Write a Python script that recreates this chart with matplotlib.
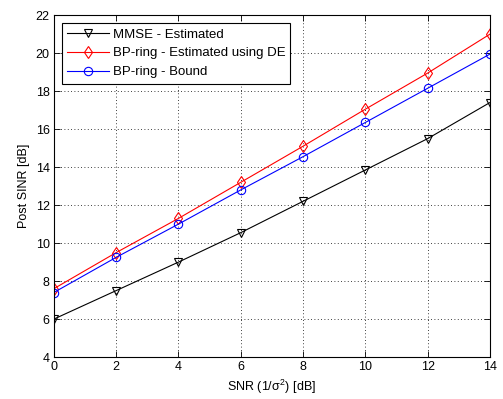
import matplotlib
matplotlib.use("Agg")
import matplotlib.pyplot as plt

snr = [0, 2, 4, 6, 8, 10, 12, 14]
mmse = [6.0, 7.5, 9.0, 10.55, 12.2, 13.85, 15.5, 17.4]
bp_de = [7.6, 9.5, 11.3, 13.2, 15.1, 17.05, 18.95, 21.0]
bp_bound = [7.4, 9.25, 11.0, 12.8, 14.55, 16.35, 18.15, 19.95]
xticks = [0, 2, 4, 6, 8, 10, 12, 14]
yticks = [4, 6, 8, 10, 12, 14, 16, 18, 20, 22]

plt.rcParams['font.family'] = ['Liberation Sans', 'DejaVu Sans']
plt.rcParams['font.size'] = 9
plt.rcParams['mathtext.fontset'] = 'custom'
plt.rcParams['mathtext.rm'] = 'Liberation Sans'
plt.rcParams['mathtext.it'] = 'Liberation Sans'

fig = plt.figure(figsize=(5.03, 3.99), dpi=100)
ax = fig.add_axes([0.107, 0.105, 0.867, 0.857])

ax.plot(snr, mmse, color='black', lw=0.8, marker='v', mfc='none', mec='black', ms=6, mew=0.8,
        label='MMSE - Estimated')
ax.plot(snr, bp_de, color='red', lw=0.8, marker='d', mfc='none', mec='red', ms=6.5, mew=0.8,
        label='BP-ring - Estimated using DE')
ax.plot(snr, bp_bound, color='blue', lw=0.8, marker='o', mfc='none', mec='blue', ms=6, mew=0.8,
        label='BP-ring - Bound')

ax.set_xlim(0, 14)
ax.set_ylim(4, 22)
ax.set_xticks(xticks)
ax.set_yticks(yticks)
ax.grid(True, linestyle=(0, (1, 3)), color='black', lw=0.6)
ax.tick_params(direction='in', length=4, width=0.6, top=True, right=True, labelsize=9, pad=3)
for s in ax.spines.values():
    s.set_linewidth(0.8)

ax.set_xlabel(r'SNR (1/$\sigma^2$) [dB]', fontsize=9, labelpad=3)
ax.set_ylabel('Post SINR [dB]', fontsize=9, labelpad=4)

leg = ax.legend(loc='upper left', fontsize=9.5, frameon=True, fancybox=False, edgecolor='black',
                framealpha=1, borderpad=0.4, labelspacing=0.5, handlelength=3.2, handletextpad=0.25,
                borderaxespad=0.6)
leg.get_frame().set_linewidth(0.8)

fig.savefig('out.png', dpi=100)
